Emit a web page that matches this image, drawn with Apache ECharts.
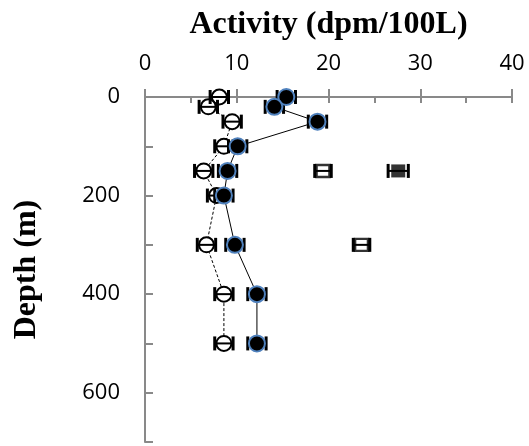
<!DOCTYPE html>
<html>
<head>
<meta charset="utf-8">
<script src="https://cdn.jsdelivr.net/npm/echarts@6/dist/echarts.min.js"></script>
<style>
  html, body { margin: 0; padding: 0; background: #fff; }
  #chart { width: 529px; height: 446px; }
</style>
</head>
<body>
<div id="chart"></div>
<script>
// Sampling depths (m)
const depths = [0, 20, 50, 100, 150, 200, 300, 400, 500];
// Filled-circle profile (dpm/100L) and its uncertainty
const filledActivity = [15.4, 14.1, 18.8, 10.1, 9.0, 8.6, 9.8, 12.2, 12.2];
const filledError = [1.0, 1.0, 1.0, 1.0, 1.0, 1.0, 1.0, 1.0, 1.0];
// Open-circle profile (dpm/100L) and its uncertainty
const openActivity = [8.1, 6.9, 9.5, 8.6, 6.4, 7.8, 6.7, 8.6, 8.6];
const openError = [1.0, 1.0, 1.0, 1.0, 1.0, 1.0, 1.0, 1.0, 1.0];
// Open squares
const openSquareDepths = [150, 300];
const openSquareActivity = [19.4, 23.6];
const openSquareError = [0.9, 0.9];
// Filled squares
const filledSquareDepths = [150];
const filledSquareActivity = [27.6];
const filledSquareError = [1.1];

const xTicks = [0, 10, 20, 30, 40];
const yLabels = [0, 200, 400, 600];

const axisGray = '#898989';
const tickFont = { fontFamily: 'Open Sans', fontSize: 22, color: '#000' };
const nameFont = { fontFamily: 'Liberation Serif', fontWeight: 'bold', fontSize: 32, color: '#000' };

function pairs(xs, ys, es) {
  return xs.map((x, i) => [x, ys[i], es[i]]);
}

// Horizontal error bar with end caps
function errorBarRenderer(params, api) {
  const x = api.value(0), y = api.value(1), e = api.value(2);
  const a = api.coord([x - e, y]);
  const b = api.coord([x + e, y]);
  const cap = 7;
  const bar = { stroke: '#000', lineWidth: 2 };
  const capStyle = { stroke: '#000', lineWidth: 3 };
  return {
    type: 'group',
    children: [
      { type: 'line', shape: { x1: a[0], y1: a[1], x2: b[0], y2: b[1] }, style: bar },
      { type: 'line', shape: { x1: a[0], y1: a[1] - cap, x2: a[0], y2: a[1] + cap }, style: capStyle },
      { type: 'line', shape: { x1: b[0], y1: b[1] - cap, x2: b[0], y2: b[1] + cap }, style: capStyle }
    ]
  };
}

const chart = echarts.init(document.getElementById('chart'), null, { renderer: 'canvas' });

chart.setOption({
  animation: false,
  backgroundColor: '#fff',
  grid: { left: 145, right: 17, top: 97, bottom: 4 },
  xAxis: [
    {
      type: 'value', position: 'top', min: 0, max: 40, interval: 10,
      name: 'Activity (dpm/100L)', nameLocation: 'middle', nameGap: 56,
      nameTextStyle: nameFont,
      axisLine: { show: true, lineStyle: { color: axisGray, width: 2 } },
      axisTick: { show: true, length: 8, lineStyle: { color: axisGray, width: 2 } },
      axisLabel: { margin: 22, ...tickFont, formatter: v => xTicks.includes(v) ? String(v) : '' },
      splitLine: { show: false }
    },
    {
      type: 'value', position: 'top', min: 0, max: 40, interval: 5,
      axisLine: { show: false },
      axisTick: { show: true, inside: true, length: 6, lineStyle: { color: axisGray, width: 2 } },
      axisLabel: { show: false },
      splitLine: { show: false }
    }
  ],
  yAxis: {
    type: 'value', inverse: true, min: 0, max: 700, interval: 100,
    name: 'Depth (m)', nameLocation: 'middle', nameGap: 102, nameRotate: 90,
    nameTextStyle: nameFont,
    axisLine: { show: true, lineStyle: { color: axisGray, width: 2 } },
    axisTick: { show: true, inside: true, length: 8, lineStyle: { color: axisGray, width: 2 } },
    axisLabel: { margin: 25, ...tickFont, formatter: v => yLabels.includes(v) ? String(v) : '' },
    splitLine: { show: false }
  },
  series: [
    {
      name: 'open profile', type: 'line', xAxisIndex: 0,
      data: pairs(openActivity, depths, openError),
      symbol: 'circle', symbolSize: 15,
      lineStyle: { color: '#000', width: 1, type: [3, 2] },
      itemStyle: { color: '#fff', borderColor: '#000', borderWidth: 2 },
      z: 2
    },
    {
      type: 'custom', xAxisIndex: 0, renderItem: errorBarRenderer,
      data: pairs(openActivity, depths, openError), z: 3
    },
    {
      name: 'open squares', type: 'scatter', xAxisIndex: 0,
      data: pairs(openSquareActivity, openSquareDepths, openSquareError),
      symbol: 'rect', symbolSize: [13, 12],
      itemStyle: { color: '#fff', borderColor: '#000', borderWidth: 2.5 },
      z: 2
    },
    {
      type: 'custom', xAxisIndex: 0, renderItem: errorBarRenderer,
      data: pairs(openSquareActivity, openSquareDepths, openSquareError), z: 3
    },
    {
      name: 'filled squares', type: 'scatter', xAxisIndex: 0,
      data: pairs(filledSquareActivity, filledSquareDepths, filledSquareError),
      symbol: 'rect', symbolSize: [14, 13],
      itemStyle: { color: '#000' },
      z: 2
    },
    {
      type: 'custom', xAxisIndex: 0, renderItem: errorBarRenderer,
      data: pairs(filledSquareActivity, filledSquareDepths, filledSquareError), z: 3
    },
    {
      type: 'custom', xAxisIndex: 0, renderItem: errorBarRenderer,
      data: pairs(filledActivity, depths, filledError), z: 4
    },
    {
      name: 'filled profile', type: 'line', xAxisIndex: 0,
      data: pairs(filledActivity, depths, filledError),
      symbol: 'circle', symbolSize: 16,
      lineStyle: { color: '#000', width: 1 },
      itemStyle: { color: '#000', borderColor: '#4f81bd', borderWidth: 2 },
      z: 5
    }
  ]
});
</script>
</body>
</html>
